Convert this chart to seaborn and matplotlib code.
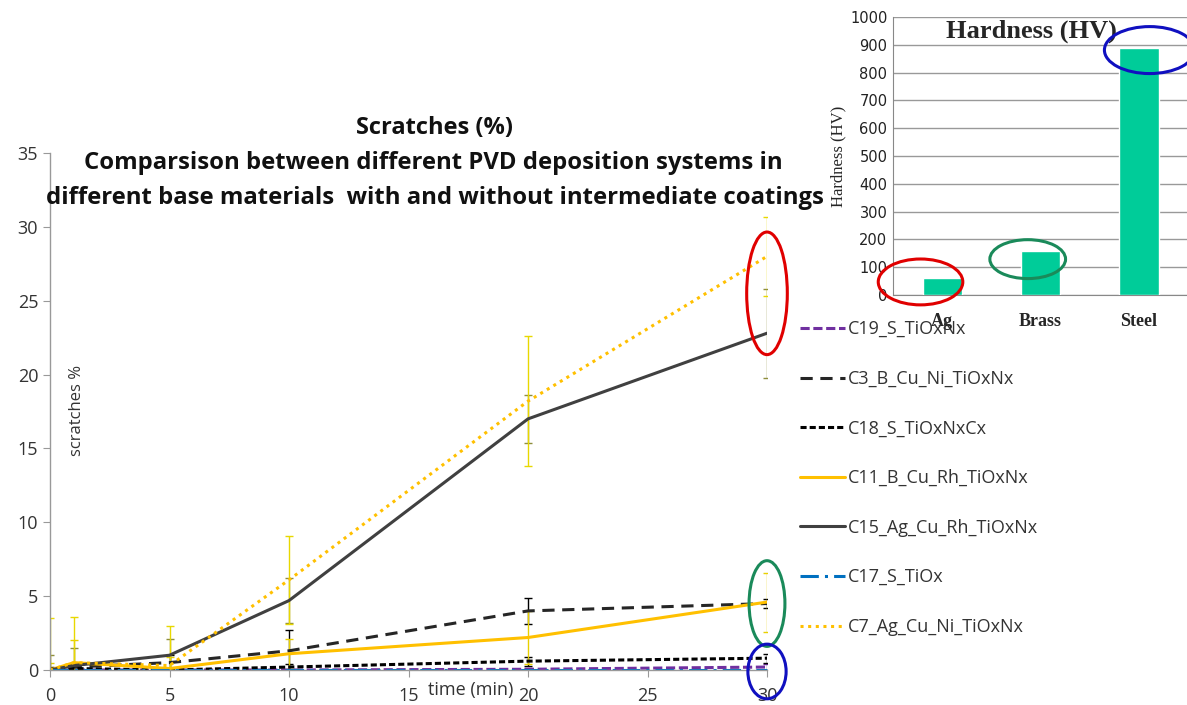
import numpy as np
import pandas as pd
import matplotlib
matplotlib.use("Agg")
import matplotlib.pyplot as plt
from matplotlib.patches import Ellipse
from matplotlib.lines import Line2D
import seaborn as sns

# ---------------- data ----------------
time = [0, 1, 5, 10, 20, 30]
series_names = ["C19_S_TiOxNx", "C3_B_Cu_Ni_TiOxNx", "C18_S_TiOxNxCx",
                "C11_B_Cu_Rh_TiOxNx", "C15_Ag_Cu_Rh_TiOxNx", "C17_S_TiOx",
                "C7_Ag_Cu_Ni_TiOxNx"]
c19 = [0.0, 0.0, 0.0, 0.0, 0.05, 0.2]
c3 = [0.0, 0.2, 0.5, 1.3, 4.0, 4.5]
c18 = [0.0, 0.1, 0.0, 0.2, 0.6, 0.8]
c11 = [0.0, 0.5, 0.1, 1.1, 2.2, 4.6]
c15 = [0.0, 0.3, 1.0, 4.7, 17.0, 22.8]
c17 = [0.0, 0.0, 0.0, 0.0, 0.0, 0.0]
c7 = [0.0, 0.5, 0.3, 6.1, 18.2, 28.0]

c19_err = [0.0, 0.0, 0.0, 0.0, 0.1, 0.2]
c3_err = [0.2, 0.3, 0.5, 1.4, 0.9, 0.3]
c18_err = [0.1, 0.1, 0.1, 0.2, 0.3, 0.3]
c11_err = [0.5, 1.5, 0.8, 1.0, 1.8, 2.0]
c15_err = [1.0, 1.2, 1.1, 1.5, 1.6, 3.0]
c17_err = [0.0, 0.0, 0.0, 0.0, 0.0, 0.0]
c7_err = [3.5, 3.1, 2.7, 3.0, 4.4, 2.7]

materials = ["Ag", "Brass", "Steel"]
hardness = [60, 160, 890]

values = [c19, c3, c18, c11, c15, c17, c7]
errors = [c19_err, c3_err, c18_err, c11_err, c15_err, c17_err, c7_err]

# ---------------- styles ----------------
colors = ["#7030A0", "#262626", "#000000", "#FFC000", "#404040", "#0070C0", "#FFC000"]
dashes = [(3, 1.2), (4, 2.5), (2, 1), "", "", (6, 2, 1, 2), (1, 1.5)]
err_colors = ["#7030A0", "#000000", "#000000", "#E8D000", "#8E8E3C", "#0070C0", "#E8D800"]

sns.set_style("white")
plt.rcParams["font.family"] = ["Open Sans", "DejaVu Sans"]

fig = plt.figure(figsize=(11.87, 7.05), dpi=100)
ax = fig.add_axes([50 / 1187, 1 - 670 / 705, 717 / 1187, 517 / 705])

rows = []
for name, vals in zip(series_names, values):
    for t, v in zip(time, vals):
        rows.append({"time": t, "value": v, "series": name})
df = pd.DataFrame(rows)

# error bars first (behind lines)
for name, vals, errs, ec in zip(series_names, values, errors, err_colors):
    ax.errorbar(time, vals, yerr=errs, fmt="none", ecolor=ec, elinewidth=1.0,
                capsize=3, capthick=1.0, zorder=1)

sns.lineplot(data=df, x="time", y="value", hue="series", style="series",
             hue_order=series_names, style_order=series_names,
             palette=dict(zip(series_names, colors)),
             dashes=dict(zip(series_names, dashes)),
             linewidth=2.2, ax=ax, legend=False, zorder=2)

ax.set_xlim(0, 30)
ax.set_ylim(0, 35)
ax.set_xticks(range(0, 31, 5))
ax.set_yticks(range(0, 36, 5))
ax.set_xlabel("")
ax.set_ylabel("")
for s in ["top", "right"]:
    ax.spines[s].set_visible(False)
for s in ["left", "bottom"]:
    ax.spines[s].set_color("#999999")
    ax.spines[s].set_linewidth(1.0)
ax.tick_params(axis="both", which="both", length=5, color="#999999", direction="out",
               labelsize=13, labelcolor="#333333", left=True, bottom=True)
ax.tick_params(axis="x", pad=7)
ax.patch.set_alpha(0)

ax.text(0.026, 17.6, "scratches %", rotation=90, ha="left", va="center",
        fontsize=12, color="#333333", transform=ax.get_yaxis_transform())
ax.text(17.6, -1.35, "time (min)", ha="center", va="center", fontsize=13,
        color="#333333", clip_on=False)

# titles
fig.text(435 / 1187, 1 - 128 / 705, "Scratches (%)", ha="center", va="center",
         fontsize=17, fontweight="bold", color="#111111")
fig.text(433 / 1187, 1 - 163 / 705,
         "Comparsison between different PVD deposition systems in",
         ha="center", va="center", fontsize=17.2, fontweight="bold", color="#111111")
fig.text(435 / 1187, 1 - 198 / 705,
         "different base materials  with and without intermediate coatings",
         ha="center", va="center", fontsize=17.2, fontweight="bold", color="#111111")

# annotation ellipses on main chart
for (cx, cy, w, h, col) in [(30, 25.5, 1.7, 8.3, "#E00000"),
                            (30, 4.5, 1.5, 5.8, "#1A8A5A"),
                            (30, -0.1, 1.6, 3.7, "#1010C0")]:
    ax.add_patch(Ellipse((cx, cy), w, h, fill=False, edgecolor=col, lw=2.2,
                         clip_on=False, zorder=5))

# legend
handles = [Line2D([0], [0], color=c, lw=2.2,
                  dashes=(d if d != "" else (None, None)))
           for c, d in zip(colors, dashes)]
leg = fig.legend(handles, series_names, loc="upper left",
                 bbox_to_anchor=(784 / 1187, 1 - 304 / 705), frameon=False,
                 fontsize=13, handlelength=2.5, handletextpad=0.15,
                 labelspacing=1.75)
for t in leg.get_texts():
    t.set_color("#333333")

# ---------------- inset: hardness ----------------
ax2 = fig.add_axes([893 / 1187, 1 - 295 / 705, 295 / 1187, 278 / 705])
hd = pd.DataFrame({"material": materials, "hardness": hardness})
sns.barplot(data=hd, x="material", y="hardness", color="#00CC99", saturation=1,
            width=0.4, ax=ax2, zorder=3)
ax2.set_ylim(0, 1000)
ax2.set_xlim(-0.5, 2.5)
ax2.set_yticks(range(0, 1001, 100))
ax2.yaxis.grid(True, color="#999999", lw=1.0)
ax2.set_axisbelow(True)
for s in ["top", "right"]:
    ax2.spines[s].set_visible(False)
for s in ["left", "bottom"]:
    ax2.spines[s].set_color("#888888")
ax2.tick_params(axis="y", labelsize=10.5, length=0, pad=4, labelcolor="#222222")
ax2.tick_params(axis="x", length=0, pad=13)
for lab in ax2.get_yticklabels():
    lab.set_family("DejaVu Sans")
for lab in ax2.get_xticklabels():
    lab.set_family(["Liberation Serif", "DejaVu Serif"])
    lab.set_fontweight("bold")
    lab.set_fontsize(13)
ax2.set_xlabel("")
ax2.set_ylabel("Hardness (HV)", family=["Liberation Serif", "DejaVu Serif"],
               fontsize=12, labelpad=3)
ax2.text(0.47, 0.95, "Hardness (HV)", family=["Liberation Serif", "DejaVu Serif"],
         fontweight="bold", fontsize=19, ha="center", va="center",
         transform=ax2.transAxes, zorder=4)
ax2.patch.set_alpha(0)

for (cx, cy, w, h, col) in [(-0.22, 47, 0.86, 165, "#E00000"),
                            (0.87, 129, 0.77, 140, "#1A8A5A"),
                            (2.11, 881, 0.92, 169, "#1010C0")]:
    ax2.add_patch(Ellipse((cx, cy), w, h, fill=False, edgecolor=col, lw=2.2,
                          clip_on=False, zorder=6))

fig.savefig("out.png", dpi=100)
